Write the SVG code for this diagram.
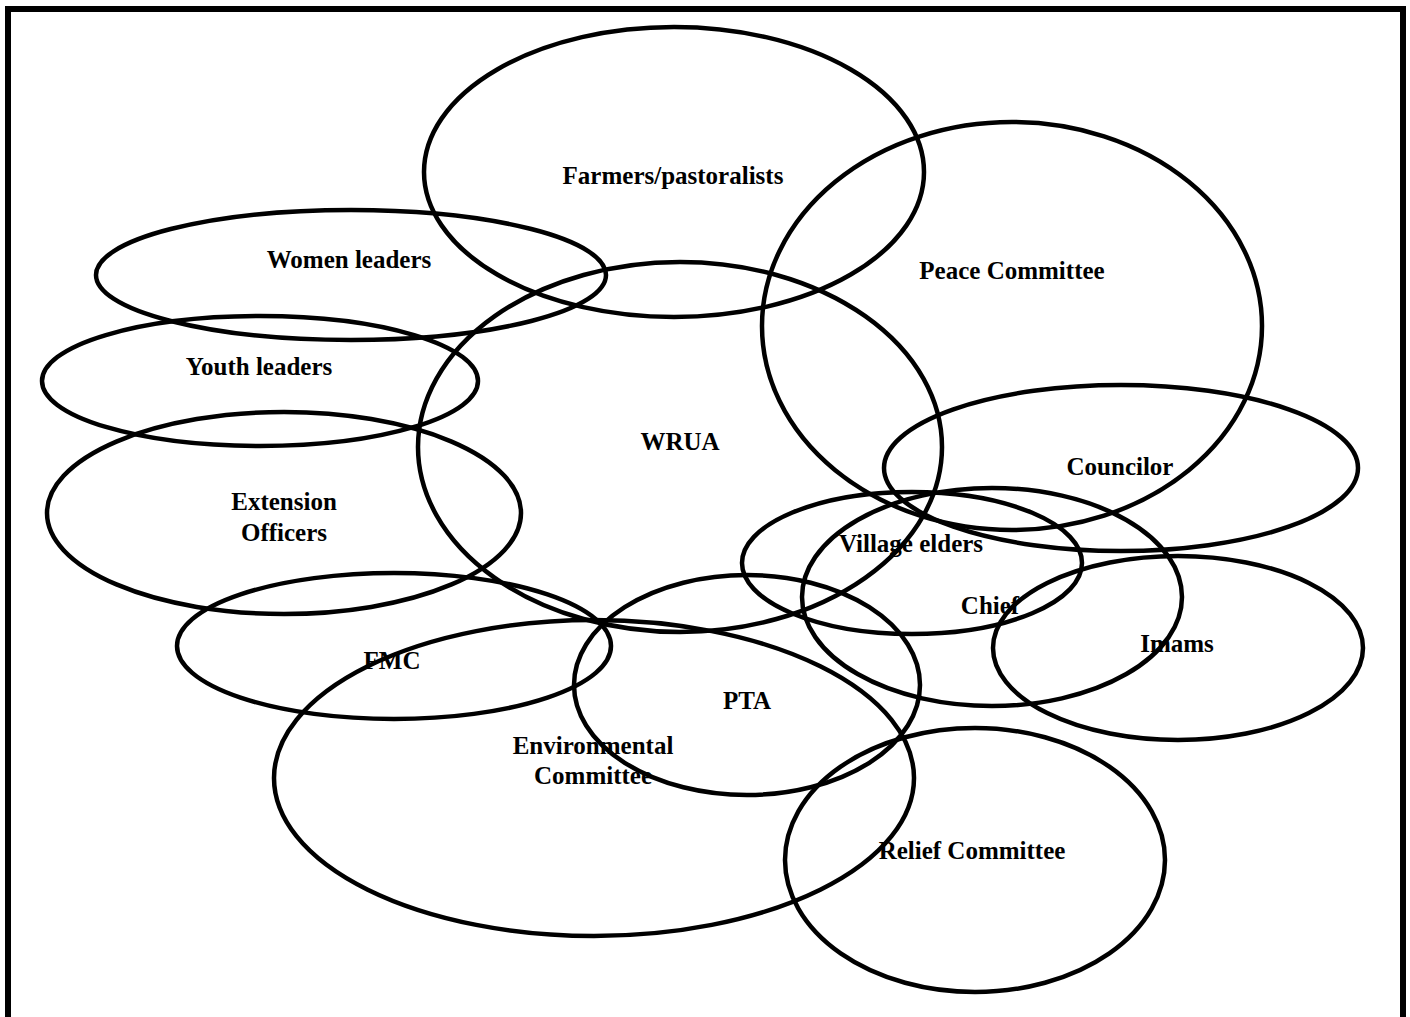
<svg xmlns="http://www.w3.org/2000/svg" width="1410" height="1017" viewBox="0 0 1410 1017">
<style>
.e{fill:none;stroke:#000;stroke-width:4.5}
.t{font-family:"Liberation Serif","Times New Roman",serif;font-weight:bold;font-size:25px;text-anchor:middle;fill:#000}
</style>
<rect x="0" y="0" width="1410" height="1017" fill="#fff"/>
<rect x="8" y="9" width="1395" height="1100" fill="none" stroke="#000" stroke-width="6"/>
<g id="farmers"><ellipse class="e" cx="674" cy="172" rx="250" ry="145"/><text class="t" x="673" y="184">Farmers/pastoralists</text></g>
<g id="women"><ellipse class="e" cx="351" cy="275" rx="255" ry="65"/><text class="t" x="349" y="268">Women leaders</text></g>
<g id="youth"><ellipse class="e" cx="260" cy="381" rx="218" ry="65"/><text class="t" x="259" y="375">Youth leaders</text></g>
<g id="wrua"><ellipse class="e" cx="680" cy="447" rx="262" ry="185"/><text class="t" x="680" y="450">WRUA</text></g>
<g id="peace"><ellipse class="e" cx="1012" cy="326" rx="250" ry="204"/><text class="t" x="1012" y="279">Peace Committee</text></g>
<g id="councilor"><ellipse class="e" cx="1121" cy="468" rx="237" ry="83"/><text class="t" x="1120" y="475">Councilor</text></g>
<g id="extension"><ellipse class="e" cx="284" cy="513" rx="237" ry="101"/><text class="t" x="284" y="510">Extension</text><text class="t" x="284" y="541">Officers</text></g>
<g id="elders"><ellipse class="e" cx="912" cy="563" rx="170" ry="71"/><text class="t" x="911" y="552">Village elders</text></g>
<g id="chief"><ellipse class="e" cx="992" cy="597" rx="190" ry="109"/><text class="t" x="990" y="614">Chief</text></g>
<g id="imams"><ellipse class="e" cx="1178" cy="648" rx="185" ry="92"/><text class="t" x="1177" y="652">Imams</text></g>
<g id="fmc"><ellipse class="e" cx="394" cy="646" rx="217" ry="73"/><text class="t" x="392" y="669">FMC</text></g>
<g id="pta"><ellipse class="e" cx="747" cy="685" rx="173" ry="110"/><text class="t" x="747" y="709">PTA</text></g>
<g id="environmental"><ellipse class="e" cx="594" cy="778" rx="320" ry="158"/><text class="t" x="593" y="754">Environmental</text><text class="t" x="593" y="784">Committee</text></g>
<g id="relief"><ellipse class="e" cx="975" cy="860" rx="190" ry="132"/><text class="t" x="972" y="859">Relief Committee</text></g>
<g id="connectors"></g>
</svg>
